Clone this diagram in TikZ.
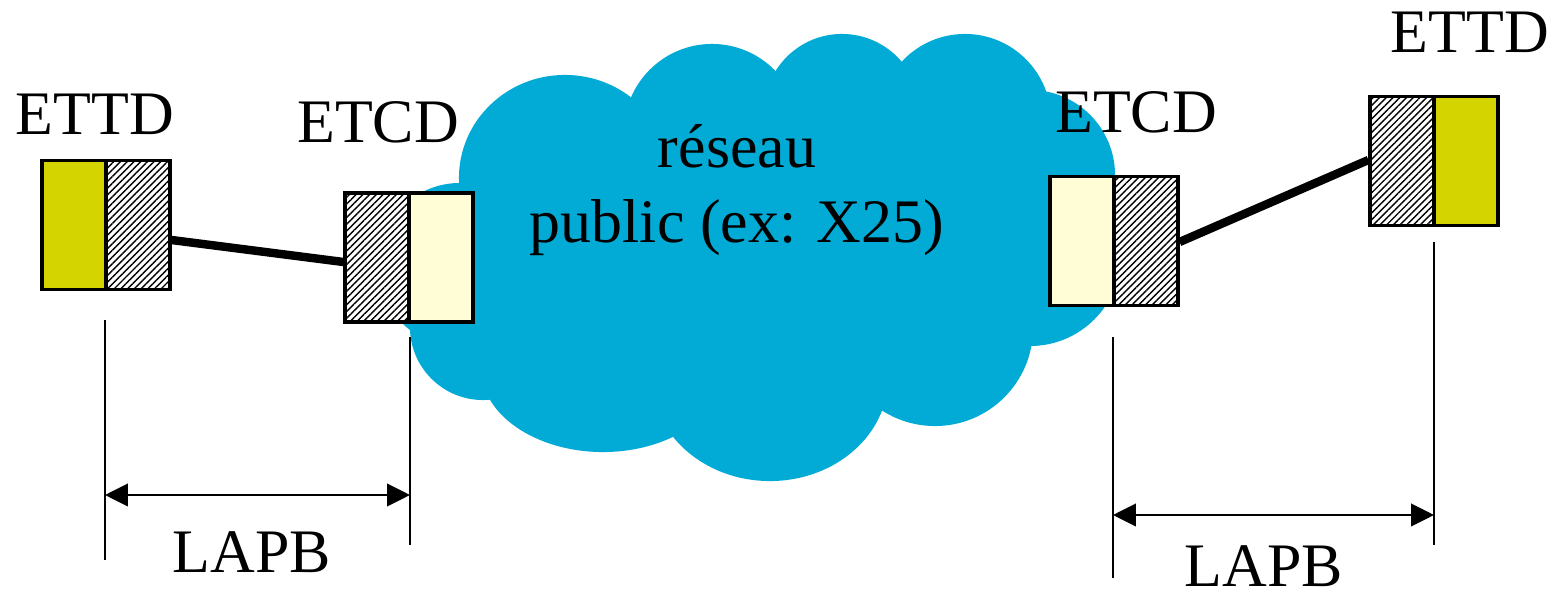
\documentclass[tikz,border=0pt]{standalone}
\usepackage{fontspec}
\setmainfont{Liberation Serif}
\usetikzlibrary{arrows.meta,patterns.meta}
\definecolor{cloudblue}{RGB}{2,170,214}
\definecolor{termyellow}{RGB}{212,212,0}
\definecolor{modemcream}{RGB}{255,253,214}
\tikzset{
  half/.style={draw=black, line width=0.9pt, inner sep=0pt,
    minimum width=0.64cm, minimum height=1.29cm},
  termhalf/.style={half, fill=termyellow},
  modemhalf/.style={half, fill=modemcream},
  hatchhalf/.style={half, fill=white,
    postaction={pattern={Lines[angle=45,distance=1.35pt,line width=0.4pt]}, pattern color=black}},
  link/.style={line width=2.4pt, line cap=butt},
  guide/.style={line width=0.65pt},
  span/.style={line width=0.65pt, {Triangle[length=6.5pt,width=6.4pt]}-{Triangle[length=6.5pt,width=6.4pt]}},
  lbl/.style={font=\fontsize{17.6pt}{21.6pt}\selectfont, inner sep=0pt, anchor=base, align=center}
}
\begin{document}
\begin{tikzpicture}[x=0.01cm, y=-0.01cm]
\useasboundingbox (0,0) rectangle (1559,591);

% network cloud: overlapping lobes in one flat colour
\begin{scope}[fill=cloudblue]
  \fill (460,265) circle[radius=0.82cm];
  \fill (483,327) circle[radius=0.73cm];
  \fill (565,178) ellipse[x radius=1.06cm, y radius=1.03cm];
  \fill (712,132) circle[radius=0.88cm];
  \fill (842,112) circle[radius=0.78cm];
  \fill (965,120) circle[radius=0.86cm];
  \fill (1030,175) circle[radius=0.85cm];
  \fill (1030,255) circle[radius=0.91cm];
  \fill (935,328) circle[radius=0.98cm];
  \fill (770,378) ellipse[x radius=1.18cm, y radius=1.03cm];
  \fill (603,368) ellipse[x radius=1.22cm, y radius=0.84cm];
  \fill (460,265) -- (565,178) -- (712,132) -- (842,112) -- (965,120)
        -- (1030,175) -- (1030,255) -- (935,328) -- (770,378) -- (603,368)
        -- (483,327) -- cycle;
\end{scope}

% the base anchor of a two-line node sits on its last line
\node[lbl] (cloudtxt) at (737,243) {réseau\\public (ex: X25)};

% left terminal (ETTD) and its modem (ETCD)
\node[termhalf]  (ettdLy) at (74,225) {};
\node[hatchhalf] (ettdLh) at (138,225) {};
\node[hatchhalf] (etcdLh) at (377,257.5) {};
\node[modemhalf] (etcdLc) at (441,257.5) {};

% right modem (ETCD) and its terminal (ETTD)
\node[modemhalf] (etcdRc) at (1082,241) {};
\node[hatchhalf] (etcdRh) at (1146,241) {};
\node[hatchhalf] (ettdRh) at (1402,161) {};
\node[termhalf]  (ettdRy) at (1466,161) {};

% access lines
\draw[link] ([yshift=-0.15cm]ettdLh.east) -- ([yshift=-0.045cm]etcdLh.west);
\draw[link] ([yshift=-0.01cm]etcdRh.east) -- ([yshift=0.01cm]ettdRh.west);

% station labels
\node[lbl] (lettd) at (95,135) {ETTD};
\node[lbl] (letcd) at (378,143) {ETCD};
\node[lbl] (retcd) at (1136,133) {ETCD};
\node[lbl] (rettd) at (1470,53) {ETTD};

% LAPB extent markers
\coordinate (gA1) at (105,320);  \coordinate (gA2) at (105,560);
\coordinate (gB1) at (410,337);  \coordinate (gB2) at (410,545);
\coordinate (gC1) at (1113,337); \coordinate (gC2) at (1113,578);
\coordinate (gD1) at (1434,242); \coordinate (gD2) at (1434,545);
\draw[guide] (gA1) -- (gA2);
\draw[guide] (gB1) -- (gB2);
\draw[guide] (gC1) -- (gC2);
\draw[guide] (gD1) -- (gD2);

\coordinate (sA) at (105,495);  \coordinate (sB) at (410,495);
\coordinate (sC) at (1113,515); \coordinate (sD) at (1434,515);
\draw[span] (sA) -- (sB);
\draw[span] (sC) -- (sD);

\node[lbl] (lapbL) at (252,573) {LAPB};
\node[lbl] (lapbR) at (1264,587) {LAPB};
\end{tikzpicture}
\end{document}
